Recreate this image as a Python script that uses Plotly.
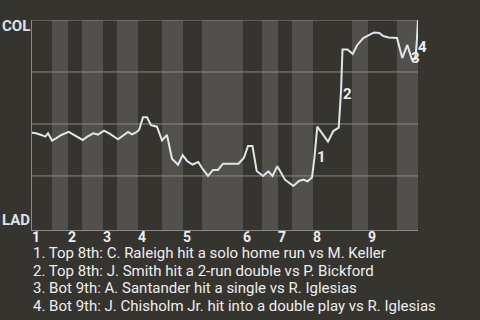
import plotly.graph_objects as go

# Win probability (COL = 1, LAD = 0) over game progress (0-100)
progress = [0.0, 1.04, 2.59, 3.45, 4.15, 5.18, 6.22, 7.59, 9.51, 11.06, 13.13, 14.33, 15.88, 17.10,
            18.65, 20.21, 22.28, 24.87, 25.91, 26.94, 27.72, 28.76, 29.79, 30.83, 32.38, 33.68,
            34.97, 36.27, 37.82, 39.04, 40.16, 41.58, 43.08, 44.04, 45.60, 46.89, 48.19, 49.48,
            53.50, 54.92, 55.96, 57.12, 58.21, 59.84, 61.22, 62.31, 63.55, 65.54, 67.69, 69.17,
            70.34, 71.37, 72.54, 73.19, 73.91, 76.68, 78.06, 79.46, 80.05, 80.44, 81.74, 83.08,
            84.27, 85.83, 87.44, 88.60, 89.97, 91.01, 92.36, 94.56, 95.93, 97.23, 98.37, 99.30,
            99.66, 100.0]
win_prob = [0.458, 0.455, 0.446, 0.439, 0.455, 0.420, 0.431, 0.447, 0.462, 0.447, 0.423, 0.439,
            0.455, 0.449, 0.468, 0.452, 0.426, 0.462, 0.450, 0.459, 0.471, 0.532, 0.532, 0.494,
            0.487, 0.421, 0.447, 0.333, 0.304, 0.350, 0.322, 0.305, 0.317, 0.288, 0.250, 0.279,
            0.279, 0.309, 0.309, 0.338, 0.394, 0.394, 0.274, 0.250, 0.272, 0.250, 0.297, 0.232,
            0.202, 0.226, 0.233, 0.224, 0.243, 0.341, 0.487, 0.415, 0.466, 0.482, 0.654, 0.858,
            0.858, 0.837, 0.880, 0.913, 0.930, 0.940, 0.938, 0.923, 0.916, 0.914, 0.817, 0.880,
            0.813, 0.813, 0.889, 1.0]

# Half-inning boundaries (progress units)
half_innings = [0, 5.18, 9.33, 12.95, 18.39, 22.02, 27.46, 33.68, 39.12, 44.04, 54.66, 59.59,
                63.73, 67.36, 72.80, 82.90, 87.05, 94.56, 100]
inning_labels = ["1", "2", "3", "4", "5", "6", "7", "8", "9"]

grid_levels = [0.25, 0.5, 0.75, 1.0]

# Key events
event_labels = ["1", "2", "3", "4"]
event_x = [73.6, 80.3, 98.0, 99.7]
event_y = [0.341, 0.644, 0.815, 0.87]
event_text = [
    "1. Top 8th: C. Raleigh hit a solo home run vs M. Keller",
    "2. Top 8th: J. Smith hit a 2-run double vs P. Bickford",
    "3. Bot 9th: A. Santander hit a single vs R. Iglesias",
    "4. Bot 9th: J. Chisholm Jr. hit into a double play vs R. Iglesias",
]

BG = "#36342f"
BAND = "#52504d"
GRID = "#8a8a87"
TXT = "#eeeeee"
LINE = "#dfe5ea"
FONT = "Roboto"

fig = go.Figure()

shapes = []
for i in range(len(half_innings) - 1):
    if i % 2 == 1:
        shapes.append(dict(type="rect", xref="x", yref="paper", x0=half_innings[i],
                           x1=half_innings[i + 1], y0=0, y1=1, fillcolor=BAND,
                           line=dict(width=0), layer="below"))
for g in grid_levels:
    shapes.append(dict(type="line", xref="paper", yref="y", x0=0, x1=1, y0=g, y1=g,
                       line=dict(color=GRID, width=1), layer="below"))

fig.add_trace(go.Scatter(x=progress, y=win_prob, mode="lines",
                         line=dict(color=LINE, width=2), hoverinfo="skip"))

annotations = []
for i, lab in enumerate(inning_labels):
    annotations.append(dict(x=half_innings[2 * i], y=0, xref="x", yref="paper",
                            text="<b>%s</b>" % lab, showarrow=False, xanchor="left",
                            yanchor="top", yshift=2,
                            font=dict(size=14, color=TXT, family=FONT),
                            borderpad=0, xshift=-1))
for lab, ex, ey in zip(event_labels, event_x, event_y):
    annotations.append(dict(x=ex, y=ey, xref="x", yref="y", text="<b>%s</b>" % lab,
                            showarrow=False, xanchor="left", yanchor="middle",
                            font=dict(size=15, color=TXT, family=FONT), borderpad=0))
annotations.append(dict(x=0, y=1.0, xref="paper", yref="paper", text="<b>COL</b>",
                        showarrow=False, xanchor="right", yanchor="middle", xshift=-1,
                        yshift=-6,
                        font=dict(size=15, color="#dde3e8", family=FONT), borderpad=0))
annotations.append(dict(x=0, y=0.0, xref="paper", yref="paper", text="<b>LAD</b>",
                        showarrow=False, xanchor="right", yanchor="bottom", xshift=-1,
                        font=dict(size=15, color="#dde3e8", family=FONT), borderpad=0))
line_y = [253, 270.7, 288.3, 306]
for t, py in zip(event_text, line_y):
    annotations.append(dict(x=0, y=(230 - py) / 210, xref="paper", yref="paper", text=t,
                            showarrow=False, xanchor="left", yanchor="middle",
                            font=dict(size=15, color=TXT, family=FONT), borderpad=0))

fig.update_layout(
    width=480, height=320,
    margin=dict(l=32, r=62, t=20, b=90),
    paper_bgcolor=BG, plot_bgcolor=BG,
    showlegend=False,
    shapes=shapes, annotations=annotations,
    xaxis=dict(range=[0, 100], showgrid=False, zeroline=False, showticklabels=False,
               showline=True, linecolor=GRID, linewidth=1, fixedrange=True),
    yaxis=dict(range=[-0.01, 1.0], showgrid=False, zeroline=False, showticklabels=False,
               showline=True, linecolor=GRID, linewidth=1, fixedrange=True),
)

fig.write_html("out.html", config={"displayModeBar": False})
